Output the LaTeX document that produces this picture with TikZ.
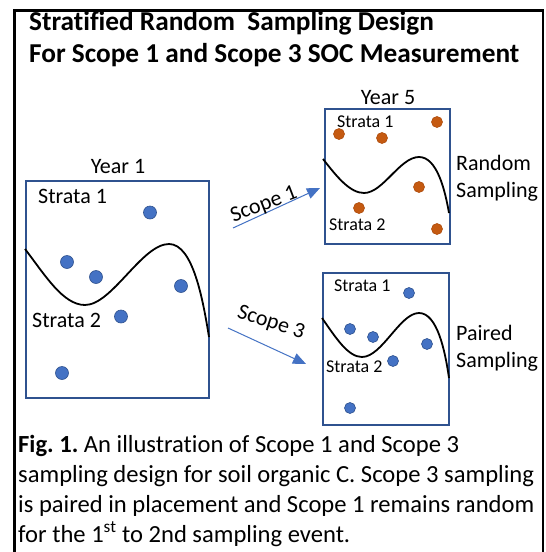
\documentclass[tikz,border=0pt]{standalone}
\usepackage{fontspec}
\setmainfont{Carlito}[Ligatures={NoCommon}]
\frenchspacing
\usetikzlibrary{arrows.meta}
\definecolor{boxblue}{RGB}{47,82,143}
\definecolor{dotblue}{RGB}{68,114,196}
\definecolor{dotblueline}{RGB}{47,82,143}
\definecolor{dotorange}{RGB}{197,90,17}
\definecolor{dotorangeline}{RGB}{174,78,15}
\definecolor{arrowblue}{RGB}{68,114,196}
\tikzset{
  panel/.style={draw=boxblue, line width=2pt},
  bdot/.style={circle, fill=dotblue, draw=dotblueline, line width=0.6pt, inner sep=0pt, minimum size=#1},
  odot/.style={circle, fill=dotorange, draw=dotorangeline, line width=0.6pt, inner sep=0pt, minimum size=11pt},
  lbl/.style={inner sep=0pt, font=\fontsize{22}{26}\selectfont},
  slbl/.style={inner sep=0pt, font=\fontsize{18}{21}\selectfont},
  ttl/.style={inner sep=0pt, anchor=base west, font=\fontsize{27.3}{32}\selectfont\bfseries},
  captxt/.style={inner sep=0pt, anchor=base west, font=\fontsize{24.6}{30}\selectfont},
  stratline/.style={line width=1.8pt, black},
  scopearrow/.style={draw=arrowblue, line width=1pt, -{Triangle[length=13pt,width=11pt]}},
}
\begin{document}
\begin{tikzpicture}[x=1pt,y=-1pt]
\useasboundingbox (0,0) rectangle (546,552);
\fill[white] (0,0) rectangle (546,552);
% outer frame
\draw[line width=2.5pt, black] (14.5,556) -- (14.5,10.5) -- (543,10.5) -- (543,556);
% title
\node[ttl] (t1) at (29,30) {Stratified Random\ \ Sampling Design};
\node[ttl] (t2) at (29,62) {For Scope 1 and Scope 3 SOC Measurement};
% Year 1 panel
\node[lbl, anchor=base] (y1) at (118,173) {Year 1};
\draw[panel] (26,181) rectangle (209,398);
\node[lbl, anchor=base west] (y1s1) at (38,203) {Strata 1};
\node[lbl, anchor=base west] (y1s2) at (32,327) {Strata 2};
\draw[stratline] (25,249) .. controls (45,275) and (63,305) .. (85,305)
  .. controls (112,305) and (142,244) .. (169,244)
  .. controls (193,244) and (203,300) .. (209,337);
\node[bdot=13pt] (a1) at (150,212.5) {};
\node[bdot=13pt] (a2) at (67,262) {};
\node[bdot=13pt] (a3) at (96,277) {};
\node[bdot=13pt] (a4) at (181,286) {};
\node[bdot=13pt] (a5) at (121,316.5) {};
\node[bdot=13pt] (a6) at (62,373) {};
% Year 5 random panel
\node[lbl, anchor=base] (y5) at (388,104) {Year 5};
\draw[panel] (325,109) rectangle (450,244);
\node[slbl, anchor=base west] (r1) at (337,127) {Strata 1};
\node[slbl, anchor=base west] (r2) at (329,230) {Strata 2};
\draw[stratline] (323,159) .. controls (337,177) and (350,193) .. (364,193)
  .. controls (383,193) and (400,157) .. (419,157)
  .. controls (437,157) and (445,190) .. (449,213);
\node[odot] (o1) at (339,134) {};
\node[odot] (o2) at (382,138) {};
\node[odot] (o3) at (437,122) {};
\node[odot] (o4) at (419,187) {};
\node[odot] (o5) at (359,208) {};
\node[odot] (o6) at (437,229) {};
\node[lbl, anchor=base west] (rs1) at (456,170) {Random};
\node[lbl, anchor=base west] (rs2) at (456,197) {Sampling};
% Paired panel
\draw[panel] (323,273) rectangle (449,425);
\node[slbl, anchor=base west] (p1) at (334,291) {Strata 1};
\node[slbl, anchor=base west] (p2) at (326,372) {Strata 2};
\draw[stratline] (322,318) .. controls (336,338) and (348,357) .. (362,357)
  .. controls (382,357) and (400,313) .. (419,313)
  .. controls (437,313) and (445,350) .. (449,378);
\node[bdot=11pt] (b1) at (409,293) {};
\node[bdot=11pt] (b2) at (350,329) {};
\node[bdot=11pt] (b3) at (373,337) {};
\node[bdot=11pt] (b4) at (427,344) {};
\node[bdot=11pt] (b5) at (393,361) {};
\node[bdot=11pt] (b6) at (350,408) {};
\node[lbl, anchor=base west] (ps1) at (456,340) {Paired};
\node[lbl, anchor=base west] (ps2) at (456,367) {Sampling};
% scope arrows
\coordinate (s1a) at (233,228);
\coordinate (s1b) at (320,188);
\draw[scopearrow] (s1a) -- (s1b);
\node[lbl, rotate=21] (s1l) at (264,205) {Scope 1};
\coordinate (s3a) at (228,328);
\coordinate (s3b) at (306,364);
\draw[scopearrow] (s3a) -- (s3b);
\node[lbl, rotate=-18] (s3l) at (271,323) {Scope 3};
% caption
\node[captxt] (c1) at (18,452) {\textbf{Fig. 1.} An illustration of Scope 1 and Scope 3};
\node[captxt] (c2) at (18,482) {sampling design for soil organic C. Scope 3 sampling};
\node[captxt] (c3) at (18,512) {is paired in placement and Scope 1 remains random};
\node[captxt] (c4) at (18,542) {for the 1\textsuperscript{st} to 2nd sampling event.};
\end{tikzpicture}
\end{document}
